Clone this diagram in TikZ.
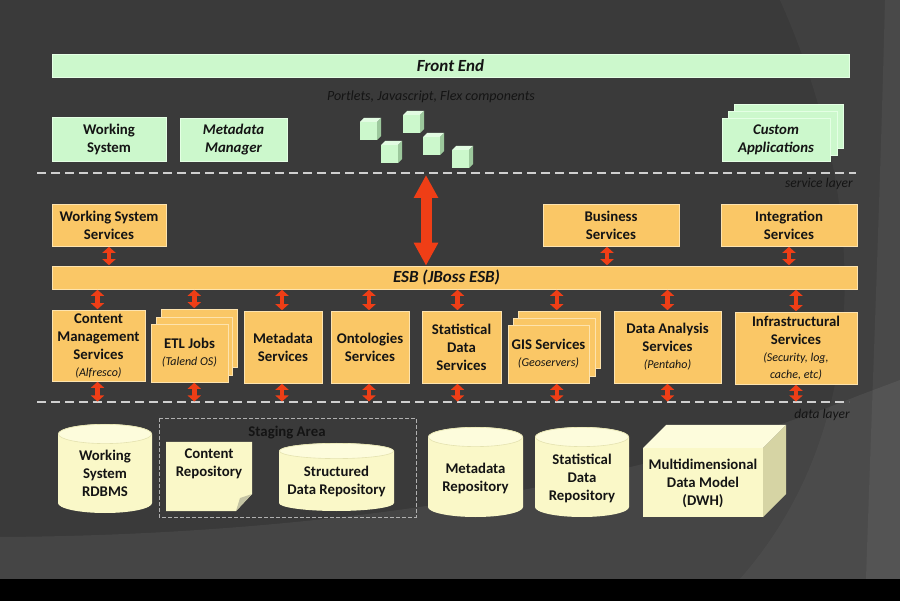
\documentclass[tikz,border=0pt]{standalone}
\usepackage{fontspec}
\setmainfont{Carlito}
\usetikzlibrary{arrows.meta,calc}
\definecolor{bgc}{HTML}{3A3A3A}
\definecolor{fegreen}{HTML}{CCF8CC}
\definecolor{gedge}{HTML}{E4FFE4}
\definecolor{cubetop}{HTML}{E2FCE2}
\definecolor{cubeside}{HTML}{9CC89C}
\definecolor{orng}{HTML}{FAC766}
\definecolor{oedge}{HTML}{FDE3AE}
\definecolor{yfill}{HTML}{FAF8C8}
\definecolor{ytop}{HTML}{FDFCDC}
\definecolor{yedge}{HTML}{E4E2B0}
\definecolor{yside}{HTML}{D6D4A4}
\definecolor{fold}{HTML}{C4C4A4}
\definecolor{redarr}{HTML}{EF3E16}
\definecolor{dline}{HTML}{CFCFCF}
\definecolor{txt}{HTML}{141414}
\definecolor{darktxt}{HTML}{141414}
\newcommand\mybox[7]{%
  \node[#1, minimum width={(#5-#3)*1pt}, minimum height={(#6-#4)*1pt}]
    (#2) at ({(#3+#5)/2},{(#4+#6)/2}) {#7};}
\newcommand\mycube[2]{%
  \fill[fegreen] (#1,#2) rectangle ({#1+17},{#2+18});
  \fill[cubetop] (#1,#2) -- ({#1+4},{#2-4}) -- ({#1+21},{#2-4}) -- ({#1+17},#2) -- cycle;
  \fill[cubeside] ({#1+17},#2) -- ({#1+21},{#2-4}) -- ({#1+21},{#2+14}) -- ({#1+17},{#2+18}) -- cycle;}
\newcommand\mycyl[8]{%
  \fill[yfill] (#2,{#3+#6}) -- (#2,{#5-#6})
    arc[start angle=180,end angle=0,x radius={(#4-#2)/2},y radius=#6]
    -- (#4,{#3+#6})
    arc[start angle=0,end angle=-180,x radius={(#4-#2)/2},y radius=#6] -- cycle;
  \filldraw[fill=ytop,draw=yedge,line width=0.6pt] ({(#2+#4)/2},{#3+#6}) ellipse [x radius={(#4-#2)/2-0.4},y radius={#6-0.4}];
  \node[ytxt] (#1) at ({(#2+#4)/2},{(#3+#5)/2+#8}) {#7};}
\begin{document}
\begin{tikzpicture}[x=1pt,y=-1pt,
  bfont/.style={font=\fontsize{14.8}{18}\selectfont\bfseries},
  gbox/.style={draw=gedge, line width=0.6pt, fill=fegreen, inner sep=0pt, align=center, text=txt, bfont},
  obox/.style={draw=oedge, line width=0.6pt, fill=orng, inner sep=0pt, align=center, text=txt, bfont},
  bigfont/.style={font=\fontsize{17}{20}\selectfont\bfseries\itshape},
  ytxt/.style={inner sep=0pt, align=center, text=txt, bfont},
  ltxt/.style={inner sep=0pt, text=darktxt, font=\fontsize{13.5}{16}\selectfont\itshape},
  layerline/.style={draw=dline, line width=2pt, dash pattern=on 9pt off 5pt},
  rarrow/.style={draw=redarr, line width=4.5pt, {Triangle[length=6pt,width=13pt]}-{Triangle[length=6pt,width=13pt]}, shorten <=0.5pt, shorten >=0.5pt},
  bigarrow/.style={draw=redarr, line width=11pt, {Triangle[length=23pt,width=23pt]}-{Triangle[length=23pt,width=23pt]}},
]
\newcommand\sub[1]{\\[-1pt]{\fontsize{12}{14}\selectfont\mdseries\itshape #1}}
\useasboundingbox (0,0) rectangle (900,601);
% background
\fill[bgc] (0,0) rectangle (900,601);
\fill[white,opacity=0.035] (780,0) .. controls (865,190) and (880,420) .. (740,579) -- (900,579) -- (900,0) -- cycle;
\fill[white,opacity=0.06] (0,537) .. controls (350,535) and (650,480) .. (860,395) -- (900,380) -- (900,579) -- (0,579) -- cycle;
\fill[white,opacity=0.05] (885,0) .. controls (880,200) and (872,400) .. (866,579) -- (900,579) -- (900,0) -- cycle;
\fill[black] (0,579) rectangle (900,601);

% front end layer
\mybox{gbox,bigfont}{fe}{52}{54}{849}{77}{Front End}
\node[ltxt, font=\fontsize{14}{16}\selectfont\itshape] (portlets) at (431,97) {Portlets, Javascript, Flex components};
\mybox{gbox}{ws}{52}{117}{166}{161}{Working\\System}
\mybox{gbox,font=\fontsize{14.8}{18}\selectfont\bfseries\itshape}{mm}{180}{118}{287}{161}{Metadata\\Manager}
\mycube{360}{122}
\mycube{403}{115}
\mycube{381}{145}
\mycube{423}{137}
\mycube{452}{150}
\mybox{gbox}{ca3}{734}{104}{843}{148}{}
\mybox{gbox}{ca2}{728}{111}{837}{155}{}
\mybox{gbox,font=\fontsize{14.8}{18}\selectfont\bfseries\itshape}{ca}{722}{118}{830}{161}{Custom\\Applications}

% service layer line
\coordinate (sl-l) at (37,173);
\coordinate (sl-r) at (856,173);
\draw[layerline] (sl-l) -- (sl-r);
\node[ltxt, anchor=east] (sltxt) at (853,184) {service layer};

% services
\mybox{obox}{wss}{52}{204}{166}{246}{Working System\\Services}
\mybox{obox}{bus}{543}{204}{679}{246}{Business\\Services}
\mybox{obox}{integ}{721}{204}{857}{246}{Integration\\Services}
\mybox{obox,bigfont}{esb}{52}{266}{857}{289}{\hspace*{-16pt}ESB (JBoss ESB)}

\mybox{obox}{cms}{52}{310}{145}{381}{Content\\Management\\Services\sub{(Alfresco)}}
\mybox{obox}{etl3}{161}{309}{237}{367}{}
\mybox{obox}{etl2}{156}{317}{232}{375}{}
\mybox{obox}{etl}{151}{324}{228}{382}{ETL Jobs\sub{(Talend OS)}}
\mybox{obox}{mds}{244}{311}{322}{383}{Metadata\\Services}
\mybox{obox}{ont}{331}{311}{409}{383}{Ontologies\\Services}
\mybox{obox}{sds}{422}{311}{501}{383}{Statistical\\Data\\Services}
\mybox{obox}{gis3}{518}{311}{600}{368}{}
\mybox{obox}{gis2}{513}{318}{595}{376}{}
\mybox{obox}{gis}{508}{325}{589}{383}{GIS Services\sub{(Geoservers)}}
\mybox{obox}{das}{614}{311}{721}{383}{Data Analysis\\Services\sub{(Pentaho)}}
\mybox{obox}{inf}{735}{312}{857}{384}{Infrastructural\\Services\sub{(Security, log,}\sub{cache, etc)}}

% data layer line
\coordinate (dl-l) at (37,402);
\coordinate (dl-r) at (849,402);
\draw[layerline] (dl-l) -- (dl-r);
\node[ltxt, anchor=east] (dltxt) at (850,415) {data layer};

% arrows
\coordinate (bigtop) at (426,175);
\draw[bigarrow] (bigtop) -- (bigtop |- esb.north);
\draw[rarrow] (wss.south) -- (wss.south |- esb.north);
\draw[rarrow] ([xshift=-4pt]bus.south) -- ([xshift=-4pt]bus.south |- esb.north);
\draw[rarrow] (integ.south) -- (integ.south |- esb.north);
\foreach \n/\dx in {cms/-1, mds/-1, ont/-1, sds/-4, das/0, inf/0}{
  \draw[rarrow] ([xshift=\dx pt]esb.south -| \n.north) -- ([xshift=\dx pt]\n.north);
  \draw[rarrow] ([xshift=\dx pt]\n.south) -- ([xshift=\dx pt]\n.south |- dl-l);
}
\coordinate (etlx) at ($(etl.south)!0.5!(etl3.south)$);
\coordinate (gisx) at ($(gis.south)!0.5!(gis3.south)$);
\draw[rarrow] (esb.south -| etlx) -- (etl3.north -| etlx);
\draw[rarrow] (etl.south -| etlx) -- (dl-l -| etlx);
\draw[rarrow] ([xshift=3pt]esb.south -| gisx) -- ([xshift=3pt]gis3.north -| gisx);
\draw[rarrow] ([xshift=3pt]gis.south -| gisx) -- ([xshift=3pt]dl-l -| gisx);

% data layer
\mycyl{rdbms}{58}{424}{152}{513}{10}{Working\\System\\RDBMS}{5}
\draw[dline!85!black, line width=0.8pt, dash pattern=on 4pt off 2pt] (159,418) rectangle (416,517);
\node[ytxt, text=darktxt] (stag) at (287,433) {Staging Area};
\fill[yfill] (166,442) -- (252,442) -- (252,494) -- (236,511) -- (166,511) -- cycle;
\fill[fold] (252,494) -- (236,511) -- (240,498) -- cycle;
\node[ytxt, anchor=north] (crep) at (209,449) {Content\\Repository};
\mycyl{sdr}{279}{443}{394}{511}{8}{Structured\\Data Repository}{4}
\mycyl{mdr}{428}{427}{523}{517}{10}{Metadata\\Repository}{6}
\mycyl{stdr}{535}{427}{629}{517}{10}{Statistical\\Data\\Repository}{6}
\fill[yfill] (643,448) rectangle (763,517);
\fill[ytop] (643,448) -- (666,425) -- (786,425) -- (763,448) -- cycle;
\fill[yside] (763,448) -- (786,425) -- (786,494) -- (763,517) -- cycle;
\node[ytxt] (dwh) at (703,483) {Multidimensional\\Data Model\\(DWH)};
\end{tikzpicture}
\end{document}
